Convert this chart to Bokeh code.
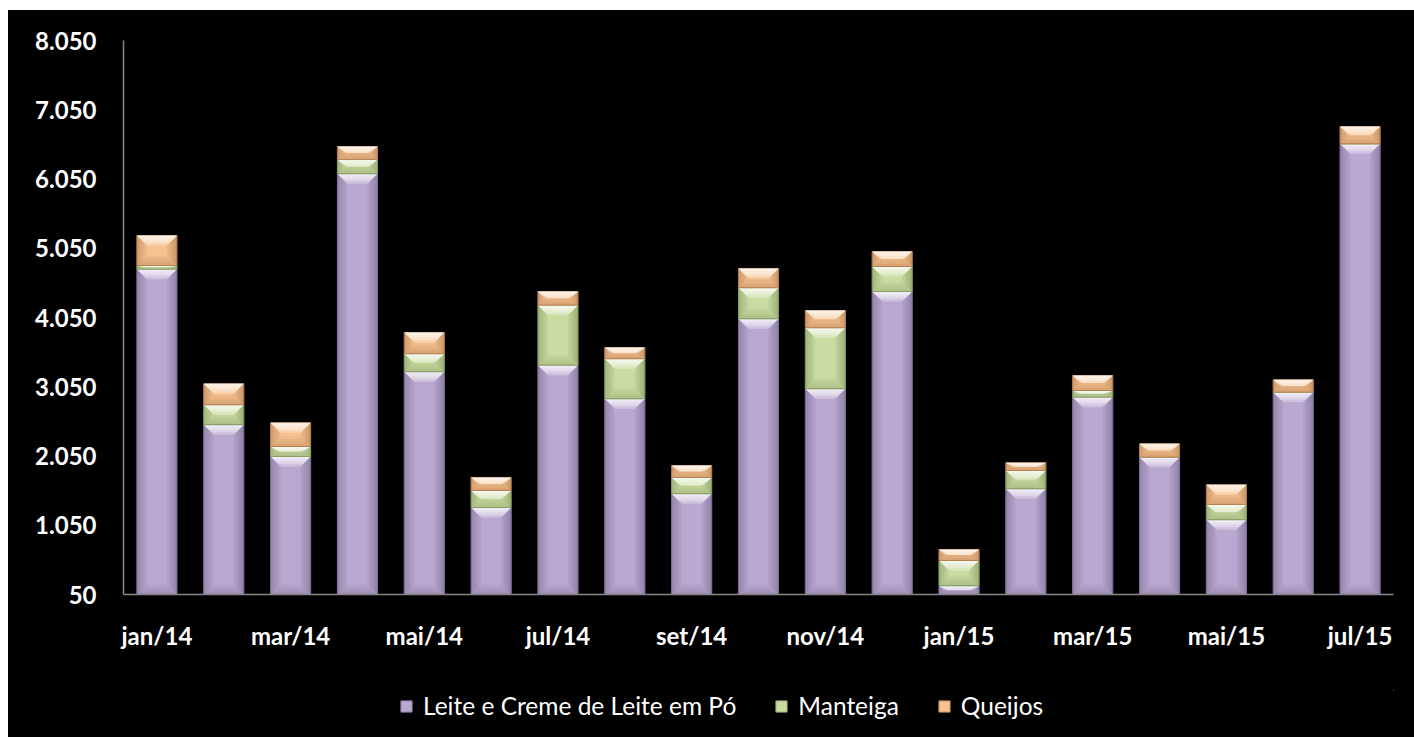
import numpy as np
from bokeh.plotting import figure
from bokeh.layouts import column
from bokeh.models import Range1d, FixedTicker, Legend, LegendItem, ColumnDataSource
from bokeh.embed import file_html
from bokeh.resources import INLINE

# Monthly volumes (stacked): milk powder, butter, cheese
months = ["jan/14", "fev/14", "mar/14", "abr/14", "mai/14", "jun/14", "jul/14",
          "ago/14", "set/14", "out/14", "nov/14", "dez/14", "jan/15", "fev/15",
          "mar/15", "abr/15", "mai/15", "jun/15", "jul/15"]
leite = [4747, 2501, 2043, 6125, 3266, 1306, 3361, 2876, 1504, 4031,
         3020, 4425, 176, 1576, 2899, 2033, 1129, 2971, 6558]
manteiga = [54, 288, 144, 207, 260, 246, 867, 578, 236, 448,
            881, 361, 365, 265, 97, 0, 221, 0, 0]
queijos = [433, 304, 342, 187, 307, 188, 197, 163, 173, 279,
           250, 217, 159, 111, 216, 193, 284, 179, 250]
series_names = ["Leite e Creme de Leite em Pó", "Manteiga", "Queijos"]
y_ticks = [50, 1050, 2050, 3050, 4050, 5050, 6050, 7050, 8050]

FONT = "Lato"
AXIS_MIN, AXIS_MAX = y_ticks[0], y_ticks[-1]
BLACK_BG = {"background-color": "black"}

# fill, edge line, highlight (top facet), shade (side/bottom facets)
styles = [
    dict(fill="#BAA8D0", line="#8C7AA6", hi="#FFFFFF", sh="#4E3F66"),
    dict(fill="#CBDCA3", line="#93A86E", hi="#FFFFFF", sh="#4F6030"),
    dict(fill="#F7C290", line="#C08A5C", hi="#FFFFFF", sh="#7A4A22"),
]

p = figure(width=1406, height=680,
           x_range=Range1d(-0.5, len(months) - 0.5),
           y_range=Range1d(AXIS_MIN, AXIS_MAX),
           output_backend="svg", toolbar_location=None,
           background_fill_color="black", border_fill_color="black",
           min_border_left=115, min_border_right=21,
           min_border_top=30, min_border_bottom=96,
           margin=(10, 0, 0, 8), styles=BLACK_BG)
p.outline_line_color = None
p.outline_line_alpha = 0
p.grid.visible = False

x = np.arange(len(months), dtype=float)
vals = [np.array(leite, float), np.array(manteiga, float), np.array(queijos, float)]
bottoms = []
tops = []
cum = np.zeros(len(months))
for v in vals:
    bottoms.append(np.maximum(cum, AXIS_MIN))
    cum = cum + v
    tops.append(cum.copy())

HALF_W = 0.3          # half bar width (category units)
BEV_X = 0.15          # bevel width (category units)
BEV_Y = 145.0         # bevel depth (value units)
LAYERS = 4


def add_bevel(fig, xc_arr, b_arr, t_arr, v_arr, st, half_w, bev_x, bev_y):
    xs, ys, cols, alphas = [], [], [], []
    for xc, y0, y1, val in zip(xc_arr, b_arr, t_arr, v_arr):
        h = y1 - y0
        if val <= 0 or h <= 0:
            continue
        l, rr = xc - half_w, xc + half_w
        for k in range(1, LAYERS + 1):
            f = k / LAYERS
            dx = bev_x * f
            dy = min(bev_y * f, h / 2)
            # top facet (lit)
            xs.append([l, rr, rr - dx, l + dx]); ys.append([y1, y1, y1 - dy, y1 - dy])
            cols.append(st["hi"]); alphas.append(0.3)
            # bottom facet
            xs.append([l, rr, rr - dx, l + dx]); ys.append([y0, y0, y0 + dy, y0 + dy])
            cols.append(st["sh"]); alphas.append(0.06)
            # left and right facets
            xs.append([l, l, l + dx, l + dx]); ys.append([y0, y1, y1 - dy, y0 + dy])
            cols.append(st["sh"]); alphas.append(0.08)
            xs.append([rr, rr, rr - dx, rr - dx]); ys.append([y0, y1, y1 - dy, y0 + dy])
            cols.append(st["sh"]); alphas.append(0.09)
    src = ColumnDataSource(dict(xs=xs, ys=ys, c=cols, a=alphas))
    fig.patches(xs="xs", ys="ys", source=src, fill_color="c", fill_alpha="a",
                line_color=None)


for v, b, t, st in zip(vals, bottoms, tops, styles):
    p.vbar(x=x, bottom=b, top=t, width=2 * HALF_W,
           fill_color=st["fill"], line_color=st["line"], line_width=1)
    add_bevel(p, x, b, t, v, st, HALF_W, BEV_X, BEV_Y)

# axes
for ax in (p.xaxis[0], p.yaxis[0]):
    ax.axis_line_color = "#868686"
    ax.axis_line_width = 1.5
    ax.major_tick_line_color = None
    ax.minor_tick_line_color = None
    ax.major_label_text_color = "white"
    ax.major_label_text_font = FONT
    ax.major_label_text_font_style = "bold"
    ax.major_label_text_font_size = "24px"

p.yaxis.ticker = FixedTicker(ticks=y_ticks)
p.yaxis.major_label_overrides = {t: f"{t:,}".replace(",", ".") for t in y_ticks}
p.yaxis.major_label_standoff = 21

even = list(range(0, len(months), 2))
p.xaxis.ticker = FixedTicker(ticks=even)
p.xaxis.major_label_overrides = {i: months[i] for i in even}
p.xaxis.major_label_standoff = 20

# legend strip below the chart; swatch glyphs sit outside its visible range
leg = figure(width=1406, height=47, x_range=Range1d(0, 1), y_range=Range1d(0, 1),
             output_backend="svg", toolbar_location=None,
             background_fill_color="black", border_fill_color="black",
             min_border=0, margin=(0, 0, 0, 8), styles=BLACK_BG)
leg.outline_line_color = None
leg.outline_line_alpha = 0
leg.axis.visible = False
leg.grid.visible = False
swatches = []
for st in styles:
    swatches.append(leg.vbar(x=[5], bottom=[5], top=[6], width=0.1,
                             fill_color=st["fill"], line_color=st["line"],
                             line_width=1))

legend = Legend(items=[LegendItem(label=n, renderers=[r])
                       for n, r in zip(series_names, swatches)],
                orientation="horizontal", location=(276, 17),
                background_fill_alpha=0, border_line_color=None,
                label_text_color="white", label_text_font=FONT,
                label_text_font_size="24.5px",
                glyph_width=14, glyph_height=14, label_standoff=10,
                spacing=38, padding=0, margin=0)
leg.add_layout(legend, "center")

layout = column(p, leg, spacing=0)

with open("out.html", "w") as fh:
    fh.write(file_html(layout, INLINE))
